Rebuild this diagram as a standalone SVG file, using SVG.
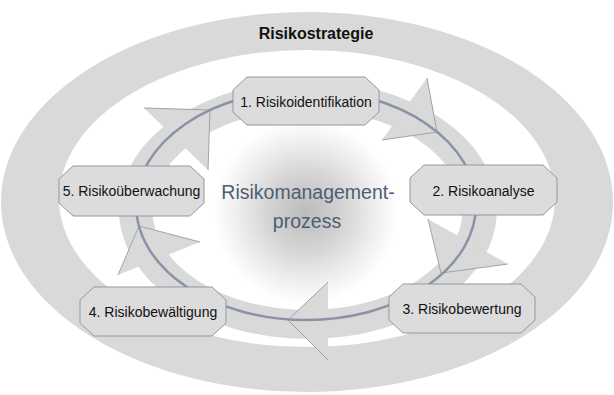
<svg xmlns="http://www.w3.org/2000/svg" width="614" height="395" viewBox="0 0 614 395">
<defs>
<radialGradient id="glow" cx="306" cy="212" r="92" gradientUnits="userSpaceOnUse">
<stop offset="0" stop-color="#bcbcbc"/>
<stop offset="0.4" stop-color="#d3d3d3"/>
<stop offset="0.75" stop-color="#eeeeee"/>
<stop offset="1" stop-color="#ffffff"/>
</radialGradient>
<style>
.ring{fill:#d9d9d9;fill-rule:evenodd}
.head{fill:#d9d9d9;stroke:none}
.edge{fill:none;stroke:#9ea3ad;stroke-width:1}
.loop{fill:none;stroke:#8a93a5;stroke-width:2.5}
.node polygon{fill:#dcdcdc;stroke:#8f97a6;stroke-width:1}
.node text{font-family:"Liberation Sans",Arial,sans-serif;font-size:14px;fill:#111;text-anchor:middle}
.title{font-family:"Liberation Sans",Arial,sans-serif;font-size:16px;font-weight:bold;fill:#111;text-anchor:middle}
.center{font-family:"Liberation Sans",Arial,sans-serif;font-size:19.5px;fill:#4f5d73;text-anchor:middle}
</style>
</defs>
<rect width="614" height="395" fill="#ffffff"/>
<g id="strategy">
<path class="ring" d="M1,202 a306,190 0 1,0 612,0 a306,190 0 1,0 -612,0 Z M59,198.5 a248,148.5 0 1,0 496,0 a248,148.5 0 1,0 -496,0 Z"/>
<text class="title" x="316" y="38.5">Risikostrategie</text>
</g>
<ellipse cx="306" cy="212" rx="92" ry="92" fill="url(#glow)"/>
<g id="connectors">
<path class="ring" d="M119,210 a189,129 0 1,0 378,0 a189,129 0 1,0 -378,0 Z M152.5,210 a155,100 0 1,0 310,0 a155,100 0 1,0 -310,0 Z"/>
<polygon class="head" points="427,78 437,132 382,140"/>
<polygon class="head" points="428,219 441,273 508,264"/>
<polygon class="head" points="328,282 288,320 328,360"/>
<polygon class="head" points="200,242 139,226 118,275"/>
<polygon class="head" points="144,108 210,110 208,170"/>
<polyline class="edge" points="427,78 437,132 382,140"/>
<polyline class="edge" points="428,219 441,273 508,264"/>
<polyline class="edge" points="328,282 288,320 328,360"/>
<polyline class="edge" points="200,242 139,226 118,275"/>
<polyline class="edge" points="144,108 210,110 208,170"/>
<ellipse class="loop" cx="306" cy="205" rx="170" ry="115"/>
</g>
<g id="center-label">
<text class="center" x="308" y="199">Risikomanagement-</text>
<text class="center" x="307" y="228">prozess</text>
</g>
<g id="node1" class="node">
<polygon points="247,77 365,77 379,90 379,112 365,125 247,125 233,112 233,90"/>
<text x="306" y="107">1. Risikoidentifikation</text>
</g>
<g id="node2" class="node">
<polygon points="424,165 543,165 557,178 557,202 543,215 424,215 410,202 410,178"/>
<text x="483.5" y="196">2. Risikoanalyse</text>
</g>
<g id="node3" class="node">
<polygon points="403,284 521,284 535,297 535,320 521,333 403,333 389,320 389,297"/>
<text x="462" y="314">3. Risikobewertung</text>
</g>
<g id="node4" class="node">
<polygon points="94,287 212,287 226,300 226,323 212,336 94,336 80,323 80,300"/>
<text x="153" y="317">4. Risikobewältigung</text>
</g>
<g id="node5" class="node">
<polygon points="73,166 190,166 204,179 204,203 190,216 73,216 59,203 59,179"/>
<text x="131.5" y="196">5. Risikoüberwachung</text>
</g>
</svg>
